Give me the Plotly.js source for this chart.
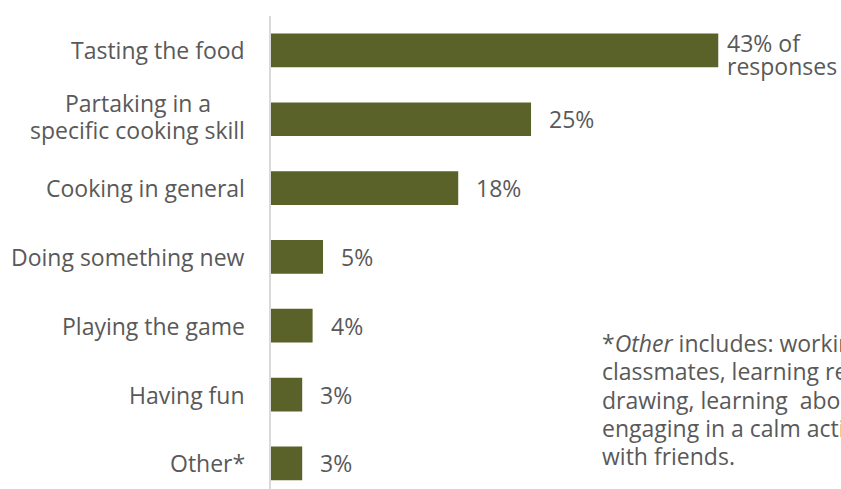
<!DOCTYPE html>
<html>
<head>
<meta charset="utf-8">
<script src="https://cdn.plot.ly/plotly-3.0.1.min.js"></script>
<style>
  html, body { margin: 0; padding: 0; background: #ffffff; overflow: hidden; }
  #chart { width: 841px; height: 489px; }
</style>
</head>
<body>
<div id="chart"></div>
<script>
// What students enjoyed most, share of responses
const categories = [
  'Tasting the food',
  'Partaking in a<br>specific cooking skill',
  'Cooking in general',
  'Doing something new',
  'Playing the game',
  'Having fun',
  'Other*'
];
const shares = [43, 25, 18, 5, 4, 3, 3];
const valueLabels = ['43% of<br>responses', '25%', '18%', '5%', '4%', '3%', '3%'];
const footnoteLines = [
  '*<i>Other</i> includes: working with',
  'classmates, learning recipes,',
  'drawing, learning  about food,',
  'engaging in a calm activity, being',
  'with friends.'
];

const FONT = '"Open Sans", Lato, sans-serif';
const FONT_SIZE = 23;
const TEXT_GREY = '#595959';
const BAR_OLIVE = '#5B6229';

const W = 841, H = 489;
const margin = { l: 271, r: 0, t: 15.5, b: 0 };
const plotW = W - margin.l - margin.r;
const plotH = H - margin.t - margin.b;

const textFont = { family: FONT, size: FONT_SIZE, color: TEXT_GREY };

// width of a line of text, used to centre stacked category lines
const ctx = document.createElement('canvas').getContext('2d');
ctx.font = FONT_SIZE + 'px "Open Sans"';
const textWidth = s => ctx.measureText(s.replace(/<[^>]+>/g, '')).width;

const annotations = [];

// category labels: right edge left of the axis, stacked lines centred on each other
const LABEL_GAP = -24;
const CAT_LINE_STEP = 26.7;
categories.forEach(c => {
  const lines = c.split('<br>');
  const widest = Math.max(...lines.map(textWidth));
  lines.forEach((line, k) => {
    const offset = (k - (lines.length - 1) / 2) * CAT_LINE_STEP - (lines.length > 1 ? 3 : 0);
    annotations.push({
      xref: 'paper', yref: 'y', x: 0, y: c,
      xanchor: 'right', yanchor: 'middle',
      xshift: LABEL_GAP - (widest - textWidth(line)) / 2,
      yshift: -offset,
      text: line, align: 'right', showarrow: false, font: textFont
    });
  });
});

// value labels just past the bar ends; a two-line label hangs below the bar centre
const VALUE_LINE_STEP = 23.3;
shares.forEach((v, i) => {
  const lines = valueLabels[i].split('<br>');
  lines.forEach((line, k) => {
    const offset = lines.length > 1 ? -7.3 + k * VALUE_LINE_STEP : 0;
    annotations.push({
      xref: 'x', yref: 'y', x: v, y: categories[i],
      xanchor: 'left', yanchor: 'middle',
      xshift: lines.length > 1 ? 7 : 16, yshift: -offset,
      text: line, align: 'left', showarrow: false, font: textFont
    });
  });
});

// footnote for the Other* category, one annotation per line
const NOTE_LEFT = 600, NOTE_FIRST_MID = 343, NOTE_STEP = 28.3;
footnoteLines.forEach((line, k) => {
  const py = NOTE_FIRST_MID + k * NOTE_STEP;
  annotations.push({
    xref: 'paper', yref: 'paper',
    x: (NOTE_LEFT - margin.l) / plotW,
    y: 1 - (py - margin.t) / plotH,
    xanchor: 'left', yanchor: 'middle',
    text: line, align: 'left', showarrow: false, font: textFont
  });
});

const trace = {
  type: 'bar',
  orientation: 'h',
  x: shares,
  y: categories,
  width: 0.49,
  marker: { color: BAR_OLIVE, line: { width: 0 } },
  hoverinfo: 'skip'
};

const layout = {
  width: W, height: H,
  margin: margin,
  paper_bgcolor: '#ffffff',
  plot_bgcolor: '#ffffff',
  showlegend: false,
  xaxis: {
    range: [0, 54.8],
    visible: false,
    fixedrange: true
  },
  yaxis: {
    type: 'category',
    categoryorder: 'array',
    categoryarray: categories,
    range: [6.372, -0.5],
    showline: true,
    linecolor: '#D9D9D9',
    linewidth: 2,
    showticklabels: false,
    ticks: '',
    showgrid: false,
    zeroline: false,
    fixedrange: true
  },
  annotations: annotations
};

Plotly.newPlot('chart', [trace], layout, { displayModeBar: false, staticPlot: true });
</script>
</body>
</html>
